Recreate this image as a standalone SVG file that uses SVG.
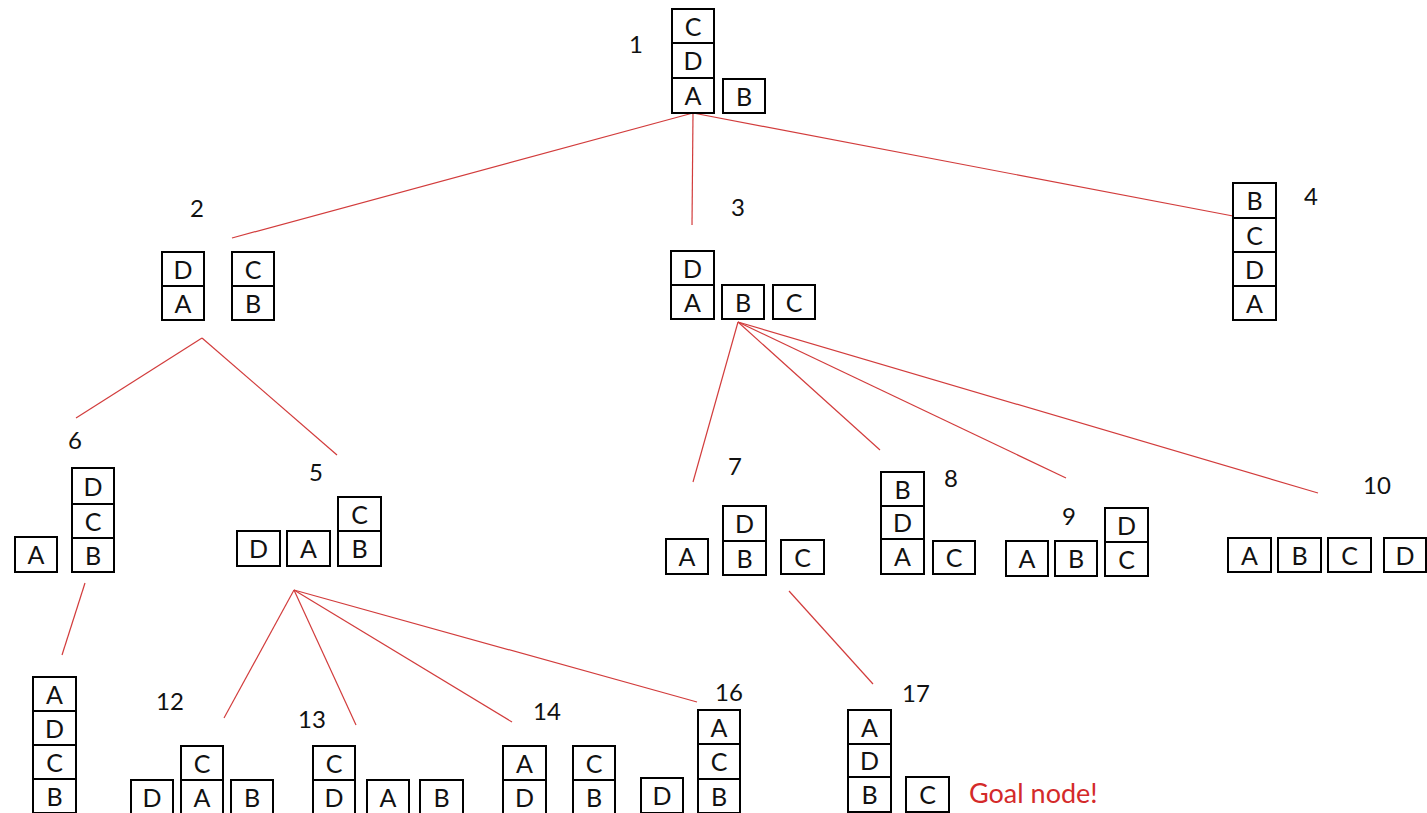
<svg xmlns="http://www.w3.org/2000/svg" width="1427" height="813" viewBox="0 0 1427 813">
<style>
rect{fill:#fff;stroke:#000;stroke-width:2}
text{font-family:Lato,"Liberation Sans",sans-serif;fill:#111}
.b{font-size:25px;text-anchor:middle}
.l{font-size:24px;text-anchor:middle}
.goal{font-size:27px;fill:#d42a2a}
#edges line{stroke:#d23c3c;stroke-width:1.2}
</style>
<rect x="0" y="0" width="1427" height="813" style="fill:#fff;stroke:none"/>
<g id="edges">
<line x1="693" y1="113" x2="232" y2="238"/>
<line x1="693" y1="113" x2="692" y2="225"/>
<line x1="693" y1="113" x2="1233" y2="216"/>
<line x1="202" y1="338" x2="76" y2="418"/>
<line x1="202" y1="338" x2="337" y2="455"/>
<line x1="738" y1="322" x2="693" y2="482"/>
<line x1="738" y1="322" x2="880" y2="450"/>
<line x1="738" y1="322" x2="1066" y2="478"/>
<line x1="738" y1="322" x2="1318" y2="493"/>
<line x1="85" y1="583" x2="62" y2="655"/>
<line x1="294" y1="590" x2="224" y2="718"/>
<line x1="294" y1="590" x2="356" y2="725"/>
<line x1="294" y1="590" x2="512" y2="722"/>
<line x1="294" y1="590" x2="697" y2="702"/>
<line x1="789" y1="591" x2="873" y2="684"/>
</g>
<g id="n1">
<text class="l" x="636" y="53">1</text>
<rect x="672" y="9" width="42" height="34"/><text class="b" x="693" y="36">C</text>
<rect x="672" y="43" width="42" height="35"/><text class="b" x="693" y="70">D</text>
<rect x="672" y="78" width="42" height="35"/><text class="b" x="693" y="105">A</text>
<rect x="723" y="79" width="42" height="34"/><text class="b" x="744" y="106">B</text>
</g>
<g id="n2">
<text class="l" x="197" y="217">2</text>
<rect x="162" y="252" width="42" height="34"/><text class="b" x="183" y="279">D</text>
<rect x="162" y="286" width="42" height="34"/><text class="b" x="183" y="313">A</text>
<rect x="232" y="252" width="42" height="34"/><text class="b" x="253" y="279">C</text>
<rect x="232" y="286" width="42" height="34"/><text class="b" x="253" y="313">B</text>
</g>
<g id="n3">
<text class="l" x="738" y="216">3</text>
<rect x="671" y="251" width="43" height="34"/><text class="b" x="692.5" y="278">D</text>
<rect x="671" y="285" width="43" height="34"/><text class="b" x="692.5" y="312">A</text>
<rect x="722" y="285" width="42" height="34"/><text class="b" x="743" y="312">B</text>
<rect x="773" y="285" width="42" height="34"/><text class="b" x="794" y="312">C</text>
</g>
<g id="n4">
<text class="l" x="1311" y="205">4</text>
<rect x="1233" y="183" width="43" height="35"/><text class="b" x="1254.5" y="210">B</text>
<rect x="1233" y="218" width="43" height="34"/><text class="b" x="1254.5" y="245">C</text>
<rect x="1233" y="252" width="43" height="34"/><text class="b" x="1254.5" y="279">D</text>
<rect x="1233" y="286" width="43" height="34"/><text class="b" x="1254.5" y="313">A</text>
</g>
<g id="n6">
<text class="l" x="75" y="449">6</text>
<rect x="15" y="537" width="42" height="35"/><text class="b" x="36" y="564">A</text>
<rect x="72" y="468" width="42" height="36"/><text class="b" x="93" y="496">D</text>
<rect x="72" y="504" width="42" height="34"/><text class="b" x="93" y="531">C</text>
<rect x="72" y="538" width="42" height="34"/><text class="b" x="93" y="565">B</text>
</g>
<g id="n5">
<text class="l" x="316" y="481">5</text>
<rect x="237" y="531" width="43" height="35"/><text class="b" x="258.5" y="558">D</text>
<rect x="287" y="531" width="43" height="35"/><text class="b" x="308.5" y="558">A</text>
<rect x="338" y="497" width="43" height="34"/><text class="b" x="359.5" y="524">C</text>
<rect x="338" y="531" width="43" height="35"/><text class="b" x="359.5" y="558">B</text>
</g>
<g id="n11">
<rect x="33" y="677" width="43" height="34"/><text class="b" x="54.5" y="704">A</text>
<rect x="33" y="711" width="43" height="34"/><text class="b" x="54.5" y="738">D</text>
<rect x="33" y="745" width="43" height="34"/><text class="b" x="54.5" y="772">C</text>
<rect x="33" y="779" width="43" height="34"/><text class="b" x="54.5" y="806">B</text>
</g>
<g id="n12">
<text class="l" x="170" y="710">12</text>
<rect x="131" y="780" width="42" height="34"/><text class="b" x="152" y="807">D</text>
<rect x="181" y="746" width="42" height="34"/><text class="b" x="202" y="773">C</text>
<rect x="181" y="780" width="42" height="34"/><text class="b" x="202" y="807">A</text>
<rect x="231" y="780" width="42" height="34"/><text class="b" x="252" y="807">B</text>
</g>
<g id="n13">
<text class="l" x="312" y="728">13</text>
<rect x="313" y="746" width="42" height="34"/><text class="b" x="334" y="773">C</text>
<rect x="313" y="780" width="42" height="34"/><text class="b" x="334" y="807">D</text>
<rect x="367" y="780" width="42" height="34"/><text class="b" x="388" y="807">A</text>
<rect x="420" y="780" width="43" height="34"/><text class="b" x="441.5" y="807">B</text>
</g>
<g id="n14">
<text class="l" x="547" y="720">14</text>
<rect x="503" y="746" width="43" height="34"/><text class="b" x="524.5" y="773">A</text>
<rect x="503" y="780" width="43" height="34"/><text class="b" x="524.5" y="807">D</text>
<rect x="573" y="746" width="42" height="34"/><text class="b" x="594" y="773">C</text>
<rect x="573" y="780" width="42" height="34"/><text class="b" x="594" y="807">B</text>
</g>
<g id="n16">
<text class="l" x="729" y="701">16</text>
<rect x="641" y="778" width="42" height="35"/><text class="b" x="662" y="805">D</text>
<rect x="698" y="710" width="42" height="34"/><text class="b" x="719" y="737">A</text>
<rect x="698" y="744" width="42" height="35"/><text class="b" x="719" y="771">C</text>
<rect x="698" y="779" width="42" height="34"/><text class="b" x="719" y="806">B</text>
</g>
<g id="n17">
<text class="l" x="916" y="702">17</text>
<rect x="848" y="710" width="43" height="34"/><text class="b" x="869.5" y="737">A</text>
<rect x="848" y="744" width="43" height="33"/><text class="b" x="869.5" y="770">D</text>
<rect x="848" y="777" width="43" height="35"/><text class="b" x="869.5" y="804">B</text>
<rect x="906" y="777" width="43" height="35"/><text class="b" x="927.5" y="804">C</text>
<text class="goal" x="969" y="803">Goal node!</text>
</g>
<g id="n7">
<text class="l" x="735" y="475">7</text>
<rect x="666" y="539" width="42" height="35"/><text class="b" x="687" y="566">A</text>
<rect x="723" y="506" width="43" height="35"/><text class="b" x="744.5" y="533">D</text>
<rect x="723" y="541" width="43" height="34"/><text class="b" x="744.5" y="568">B</text>
<rect x="781" y="540" width="43" height="34"/><text class="b" x="802.5" y="567">C</text>
</g>
<g id="n8">
<text class="l" x="951" y="487">8</text>
<rect x="881" y="472" width="43" height="34"/><text class="b" x="902.5" y="499">B</text>
<rect x="881" y="506" width="43" height="33"/><text class="b" x="902.5" y="532">D</text>
<rect x="881" y="539" width="43" height="35"/><text class="b" x="902.5" y="566">A</text>
<rect x="933" y="541" width="42" height="33"/><text class="b" x="954" y="567">C</text>
</g>
<g id="n9">
<text class="l" x="1069" y="525">9</text>
<rect x="1006" y="541" width="42" height="35"/><text class="b" x="1027" y="568">A</text>
<rect x="1055" y="541" width="42" height="35"/><text class="b" x="1076" y="568">B</text>
<rect x="1105" y="508" width="43" height="34"/><text class="b" x="1126.5" y="535">D</text>
<rect x="1105" y="542" width="43" height="34"/><text class="b" x="1126.5" y="569">C</text>
</g>
<g id="n10">
<text class="l" x="1377" y="494">10</text>
<rect x="1228" y="538" width="43" height="34"/><text class="b" x="1249.5" y="565">A</text>
<rect x="1278" y="538" width="43" height="34"/><text class="b" x="1299.5" y="565">B</text>
<rect x="1328" y="538" width="43" height="34"/><text class="b" x="1349.5" y="565">C</text>
<rect x="1384" y="538" width="42" height="34"/><text class="b" x="1405" y="565">D</text>
</g>
</svg>
